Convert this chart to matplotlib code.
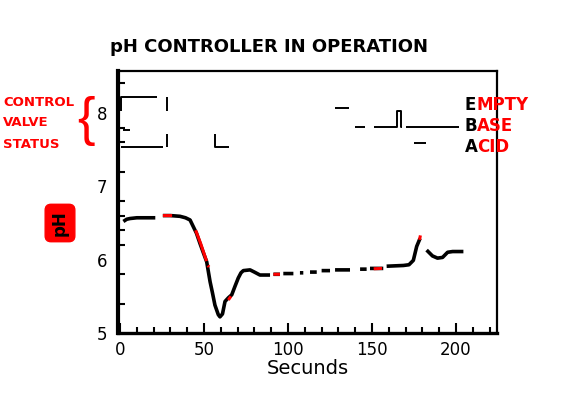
import numpy as np
import matplotlib
matplotlib.use("Agg")
import matplotlib.pyplot as plt

nan = np.nan

# pH trace, nan = pen lifted
ph_x = [2, 4, 6, 10, 15, 21, nan,
        25.5, 30, 35.7, 39, 41.7, 43.6, 45.5, 47.6, 49.5, 51.6, 53.6, 55, 56.5, 58.5,
        59.5, 61, 62.5, 64.5, 66.5, 68.5, 70.4, 72, 73.4, 77.4, 80, 83.3, 86, 89.3, nan,
        91.3, 95.2, nan, 97.2, 103.2, nan, 107.1, 109.1, nan, 113.1, 117.1, nan,
        120, 125, nan, 128, 136.9, nan, 142.9, 146.8, nan, 148.8, 156.7, nan,
        158.7, 168.7, 172, 174.6, 176.6, 178.6, nan,
        182.5, 186, 189, 192, 195, 198, 204.4]
ph_y = [6.52, 6.55, 6.56, 6.57, 6.57, 6.57, nan,
        6.60, 6.60, 6.59, 6.57, 6.54, 6.45, 6.36, 6.22, 6.10, 5.97, 5.70, 5.55, 5.38, 5.25,
        5.22, 5.26, 5.43, 5.48, 5.52, 5.64, 5.75, 5.82, 5.85, 5.86, 5.83, 5.79, 5.79, 5.79, nan,
        5.80, 5.80, nan, 5.81, 5.81, nan, 5.82, 5.82, nan, 5.83, 5.83, nan,
        5.85, 5.85, nan, 5.86, 5.86, nan, 5.87, 5.87, nan, 5.88, 5.88, nan,
        5.91, 5.92, 5.93, 5.99, 6.18, 6.29, nan,
        6.13, 6.05, 6.02, 6.03, 6.10, 6.11, 6.11]

# red pen marks on top of the trace
red_x = [25.5, 31, nan, 45, 48, 51.5, nan, 52.3, 53, nan, 64.5, 66, nan,
         91.3, 95.2, nan, 151, 156, nan, 178.3, 178.8]
red_y = [6.60, 6.60, nan, 6.40, 6.22, 5.98, nan, 5.92, 5.90, nan, 5.45, 5.50, nan,
         5.80, 5.80, nan, 5.875, 5.88, nan, 6.27, 6.33]

# control valve status trace
valve_x = [0.5, 0.5, 21.8, nan, 27.8, 27.8, nan, 1.8, 6, nan,
           0.5, 25.8, nan, 27.8, 27.8, nan, 56.5, 56.5, 65, nan,
           128, 136.5, nan, 140, 146, nan,
           151, 165, 165, 167, 167, 168, nan, 170, 202, nan, 175, 182]
valve_y = [8.02, 8.21, 8.21, nan, 8.21, 8.03, nan, 7.76, 7.76, nan,
           7.53, 7.53, nan, 7.53, 7.71, nan, 7.71, 7.53, 7.53, nan,
           8.06, 8.06, nan, 7.81, 7.81, nan,
           7.81, 7.81, 8.02, 8.02, 7.81, 7.81, nan, 7.81, 7.81, nan, 7.59, 7.59]

status_names = ["EMPTY", "BASE", "ACID"]
x_major = [0, 50, 100, 150, 200]
x_major_labels = ["0", "50", "100", "150", "200"]
x_minor = [10, 20, 30, 40, 60, 70, 80, 90, 110, 120, 130, 140, 160, 170, 180, 190, 210, 220]
y_labels = [5, 6, 7, 8]
y_minor = [5.4, 5.8, 6.2, 6.4, 6.6, 6.8, 7.2, 7.6, 7.8, 8.0, 8.4]

fig = plt.figure(figsize=(5.65, 3.99), dpi=100)
ax = fig.add_axes([118 / 565, 1 - 333 / 399, 379 / 565, 262 / 399])

ax.plot(ph_x, ph_y, color="black", linewidth=2.6, solid_capstyle="butt")
ax.plot(red_x, red_y, color="red", linewidth=2.2, solid_capstyle="butt")
ax.plot(valve_x, valve_y, color="black", linewidth=1.4, solid_capstyle="butt")

ax.set_xlim(-1.2, 224.4)
ax.set_ylim(5.0, 8.57)

ax.set_xticks(x_major)
ax.set_xticklabels(x_major_labels)
ax.set_xticks(x_minor, minor=True)
ax.set_yticks(y_labels)
ax.set_yticks(y_minor, minor=True)
ax.tick_params(axis="x", which="major", direction="in", length=7, width=1.5,
               labelsize=12, pad=6)
ax.tick_params(axis="x", which="minor", direction="in", length=4, width=1.5)
ax.tick_params(axis="y", which="major", length=0, labelsize=12, pad=8)
ax.tick_params(axis="y", which="minor", direction="in", length=5, width=1.5)

for side, lw in [("left", 3), ("bottom", 2.4), ("top", 1.6), ("right", 1.6)]:
    ax.spines[side].set_linewidth(lw)

ax.set_xlabel("Secunds", fontsize=14, labelpad=0)

fig.text(269 / 565, 1 - 47 / 399, "pH CONTROLLER IN OPERATION", ha="center", va="center",
         fontsize=13, fontweight="bold")

# pH label in the red box
fig.text(60 / 565, 1 - 223 / 399, "pH", rotation=90, ha="center", va="center",
         fontsize=12, fontweight="bold", color="black",
         bbox=dict(boxstyle="round,pad=0.35", fc="red", ec="red"))

# control valve status notes
fig.text(3 / 565, 1 - 123 / 399, "CONTROL\nVALVE\nSTATUS", ha="left", va="center",
         fontsize=9.5, fontweight="bold", color="red", linespacing=1.8)
fig.text(86 / 565, 1 - 121 / 399, "{", ha="center", va="center",
         fontsize=38, color="red", family="Liberation Sans")

for name, py in zip(status_names, [105, 126, 147]):
    fig.text(465 / 565, 1 - py / 399, name[0], ha="left", va="center",
             fontsize=12, fontweight="bold", color="black")
    fig.text(477 / 565, 1 - py / 399, name[1:], ha="left", va="center",
             fontsize=12, fontweight="bold", color="red")

fig.savefig("out.png", dpi=100)
